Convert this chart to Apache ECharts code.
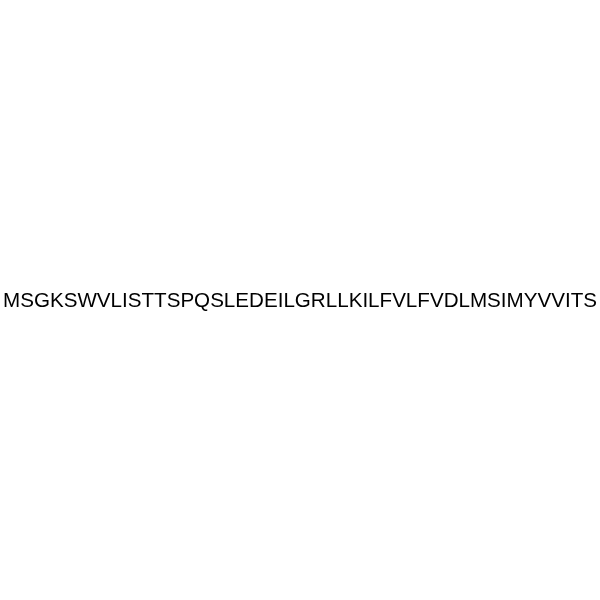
<!DOCTYPE html>
<html>
<head>
<meta charset="utf-8">
<script src="https://cdn.jsdelivr.net/npm/echarts@6/dist/echarts.min.js"></script>
<style>
    html, body { margin: 0; padding: 0; background: #fff; }
    #main { width: 600px; height: 600px; }
</style>
</head>
<body>
<div id="main"></div>
<script>
    // peptide sequence, one residue per entry
    var residues = 'MSGKSWVLISTTSPQSLEDEILGRLLKILFVLFVDLMSIMYVVITS'.split('');

    var myChart = echarts.init(document.getElementById('main'));
    var option = {
        backgroundColor: '#ffffff',
        animation: false,
        graphic: [{
            type: 'text',
            left: 'center',
            top: 291,
            style: {
                text: residues.join(''),
                fontFamily: 'Liberation Sans, Arial, sans-serif',
                fontSize: 20.6,
                fill: '#000000'
            }
        }]
    };
    myChart.setOption(option);
</script>
</body>
</html>
